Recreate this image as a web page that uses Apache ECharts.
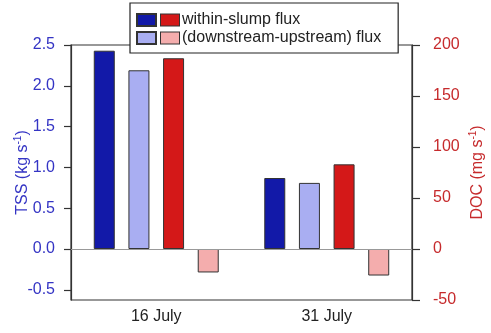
<!DOCTYPE html>
<html>
<head>
<meta charset="utf-8">
<script src="https://cdn.jsdelivr.net/npm/echarts@6/dist/echarts.min.js"></script>
<style>html,body{margin:0;padding:0;background:#fff}#c{width:491px;height:333px}</style>
</head>
<body>
<div id="c"></div>
<script>
const categories = ['16 July', '31 July'];
const tssWithin = [2.43, 0.87];
const tssDiff = [2.19, 0.81];
const docWithin = [187, 83];
const docDiff = [-23, -26];
const tssTicks = [-0.5, 0, 0.5, 1.0, 1.5, 2.0, 2.5];
const legendNames = ['within-slump flux', '(downstream-upstream) flux'];

const FONT = 'Liberation Sans, Arial, sans-serif';
const C_DB = '#1219a8', C_LB = '#a9aef2', C_R = '#d41818', C_P = '#f4adad';
const BLUE_TXT = '#3434c4', RED_TXT = '#c62a2c';
const border = { borderColor: '#333', borderWidth: 1 };

const chart = echarts.init(document.getElementById('c'));
chart.setOption({
  animation: false,
  textStyle: { fontFamily: FONT },
  grid: { left: 71, right: 79, top: 45, bottom: 33, containLabel: false, outerBoundsMode: 'none',
    show: true, borderColor: '#333', borderWidth: 1.2, backgroundColor: 'transparent' },
  legend: {
    orient: 'vertical', left: 130, top: 3, z: 10,
    padding: [9, 17, 7, 6],
    itemGap: 2,
    icon: 'rect',
    itemWidth: 19, itemHeight: 12,
    backgroundColor: '#fff', borderColor: '#222', borderWidth: 1.2,
    data: [legendNames[0], legendNames[1]],
    formatter: function (name) {
      return (name === legendNames[0] ? '{r|}' : '{p|}') + '{t|' + name + '}';
    },
    textStyle: {
      fontFamily: FONT, fontSize: 16, color: '#222',
      rich: {
        r: { width: 18, height: 11, backgroundColor: C_R, borderColor: '#333', borderWidth: 1 },
        p: { width: 18, height: 11, backgroundColor: C_P, borderColor: '#333', borderWidth: 1 },
        t: { fontSize: 16, color: '#222', padding: [0, 0, 0, 3], lineHeight: 18, fontFamily: FONT }
      }
    }
  },
  xAxis: {
    type: 'category', data: categories,
    axisLine: { lineStyle: { color: '#333', width: 1.2 } },
    axisTick: { show: false },
    axisLabel: { fontSize: 16, color: '#222', margin: 9, fontFamily: FONT }
  },
  yAxis: [
    {
      type: 'value', min: -0.625, max: 2.5, position: 'left',
      axisLine: { show: true, lineStyle: { color: '#333', width: 1.2 } },
      axisTick: { show: true, inside: false, length: 7, customValues: tssTicks, lineStyle: { color: '#333', width: 1.2 } },
      axisLabel: { customValues: tssTicks, fontSize: 16, color: BLUE_TXT, margin: 16, fontFamily: FONT,
        formatter: v => v.toFixed(1) },
      splitLine: { show: false },
      name: '{n|TSS (kg s}{s|-1}{n|)}', nameLocation: 'middle', nameGap: 38, nameMoveOverlap: false,
      nameTextStyle: {
        color: BLUE_TXT, fontFamily: FONT,
        rich: {
          n: { fontSize: 16, color: BLUE_TXT, lineHeight: 20, fontFamily: FONT },
          s: { fontSize: 10, color: BLUE_TXT, lineHeight: 20, verticalAlign: 'top', fontFamily: FONT }
        }
      }
    },
    {
      type: 'value', min: -50, max: 200, interval: 50, position: 'right',
      axisLine: { show: true, lineStyle: { color: '#333', width: 1.2 } },
      axisTick: { show: true, inside: false, length: 8, lineStyle: { color: '#333', width: 1.2 } },
      axisLabel: { fontSize: 16, color: RED_TXT, margin: 21, fontFamily: FONT },
      splitLine: { show: false },
      name: '{n|DOC (mg s}{s|-1}{n|)}', nameLocation: 'middle', nameGap: 56, nameMoveOverlap: false,
      nameTextStyle: {
        color: RED_TXT, fontFamily: FONT,
        rich: {
          n: { fontSize: 16, color: RED_TXT, lineHeight: 20, fontFamily: FONT },
          s: { fontSize: 10, color: RED_TXT, lineHeight: 20, verticalAlign: 'top', fontFamily: FONT }
        }
      }
    }
  ],
  series: [
    { name: legendNames[0], type: 'bar', yAxisIndex: 0, data: tssWithin, barWidth: 21, barGap: '65%',
      itemStyle: Object.assign({ color: C_DB }, border),
      markLine: { silent: true, symbol: 'none', label: { show: false },
        lineStyle: { color: '#999', width: 1, type: 'solid' }, data: [{ yAxis: 0 }] } },
    { name: legendNames[1], type: 'bar', yAxisIndex: 0, data: tssDiff, barWidth: 21, barGap: '65%',
      itemStyle: Object.assign({ color: C_LB }, border) },
    { name: 'DOC within', type: 'bar', yAxisIndex: 1, data: docWithin, barWidth: 21, barGap: '65%',
      itemStyle: Object.assign({ color: C_R }, border) },
    { name: 'DOC diff', type: 'bar', yAxisIndex: 1, data: docDiff, barWidth: 21, barGap: '65%',
      itemStyle: Object.assign({ color: C_P }, border) }
  ]
});
</script>
</body>
</html>
